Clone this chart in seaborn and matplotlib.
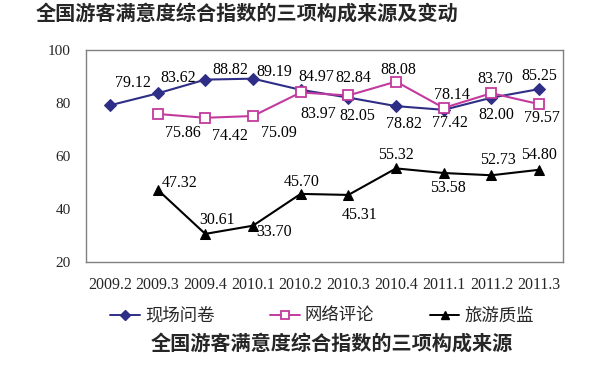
"""全国游客满意度综合指数的三项构成来源及变动。"""

import matplotlib

matplotlib.use("Agg")
import matplotlib.pyplot as plt
import numpy as np
import pandas as pd
import seaborn as sns
from matplotlib.lines import Line2D


QUARTERS = ["2009.2", "2009.3", "2009.4", "2010.1", "2010.2", "2010.3",
            "2010.4", "2011.1", "2011.2", "2011.3"]
XIANCHANG = [79.12, 83.62, 88.82, 89.19, 84.97, 82.05, 78.82, 77.42, 82.00, 85.25]
WANGLUO = [np.nan, 75.86, 74.42, 75.09, 83.97, 82.84, 88.08, 78.14, 83.70, 79.57]
ZHIJIAN = [np.nan, 47.32, 30.61, 33.70, 45.70, 45.31, 55.32, 53.58, 52.73, 54.80]
SERIES_NAMES = ["现场问卷", "网络评论", "旅游质监"]

# 数据标签相对点位的偏移（像素，向下为正）
OFFSETS = {
    "现场问卷": [(23, -22), (21, -15), (25, -10), (21, -7), (16, -13),
             (9, 18), (8, 18), (6, 13), (5, 17), (0, -13)],
    "网络评论": [None, (25, 19), (25, 18), (26, 17), (18, 22),
             (5, -17), (2, -12), (8, -13), (4, -14), (3, 14)],
    "旅游质监": [None, (22, -7), (12, -14), (21, 6), (1, -12),
             (11, 20), (0, -13), (4, 15), (6, -15), (0, -15)],
}

NAVY = "#2E2E86"
MAGENTA = "#C23A9E"
CJK = ["Noto Sans CJK SC", "DejaVu Sans"]
SERIF = ["Liberation Serif", "DejaVu Serif"]


def main() -> None:
    sns.set_theme(style="white")
    plt.rcParams["font.family"] = CJK

    df = pd.DataFrame({"pos": np.arange(len(QUARTERS)), "现场问卷": XIANCHANG,
                       "网络评论": WANGLUO, "旅游质监": ZHIJIAN})

    fig = plt.figure(figsize=(6, 3.81), dpi=100)
    ax = fig.add_axes([86 / 600, 1 - 262 / 381, 477 / 600, 212 / 381])

    styles = {
        "现场问卷": dict(color=NAVY, marker="D", markersize=6.5, markerfacecolor=NAVY,
                     markeredgecolor=NAVY),
        "网络评论": dict(color=MAGENTA, marker="s", markersize=7, markerfacecolor="white",
                     markeredgecolor=MAGENTA, markeredgewidth=1.3),
        "旅游质监": dict(color="black", marker="^", markersize=7.5, markerfacecolor="black",
                     markeredgecolor="black"),
    }
    for name in SERIES_NAMES:
        sub = df[["pos", name]].dropna()
        sns.lineplot(data=sub, x="pos", y=name, ax=ax, linewidth=1.5, **styles[name])
        for (x, y), off in zip(zip(df["pos"], df[name]), OFFSETS[name]):
            if off is None or np.isnan(y):
                continue
            ax.annotate(f"{y:.2f}", (x, y), xytext=(off[0], -off[1]),
                        textcoords="offset pixels", ha="center", va="center",
                        fontsize=11.5, family=SERIF, color="black")

    ax.set_xlim(-0.5, len(QUARTERS) - 0.5)
    ax.set_ylim(20, 100)
    ax.set_yticks([20, 40, 60, 80, 100])
    ax.set_xticks(np.arange(len(QUARTERS)))
    ax.set_xticklabels(QUARTERS)
    ax.set_xticks(np.arange(len(QUARTERS) + 1) - 0.5, minor=True)
    ax.tick_params(axis="x", which="major", length=0, pad=11, labelsize=11.5)
    ax.tick_params(axis="x", which="minor", direction="in", length=4, width=0.8,
                   color="#808080")
    ax.tick_params(axis="y", length=0, pad=11, labelsize=11)
    for lab in ax.get_xticklabels() + ax.get_yticklabels():
        lab.set_family(SERIF)
    ax.set_xlabel("")
    ax.set_ylabel("")
    for sp in ax.spines.values():
        sp.set_color("#808080")
        sp.set_linewidth(1.0)
    if ax.get_legend():
        ax.get_legend().remove()

    handles = []
    for n in SERIES_NAMES:
        st = dict(styles[n])
        st["markersize"] = 5.5
        handles.append(Line2D([], [], linewidth=1.4, **st))
    fig.legend(handles, SERIES_NAMES, loc="center", bbox_to_anchor=(0.537, 1 - 316 / 381),
               ncol=3, frameon=False, fontsize=12.5, handlelength=1.7,
               handletextpad=0.3, columnspacing=3.2, borderpad=0)

    fig.text(36 / 600, 1 - 13 / 381, "全国游客满意度综合指数的三项构成来源及变动",
             ha="left", va="center", fontsize=14.5, fontweight="bold")
    fig.text(332 / 600, 1 - 343 / 381, "全国游客满意度综合指数的三项构成来源",
             ha="center", va="center", fontsize=14.5, fontweight="bold")

    fig.savefig("out.png", dpi=100)
    plt.close(fig)


if __name__ == "__main__":
    main()
